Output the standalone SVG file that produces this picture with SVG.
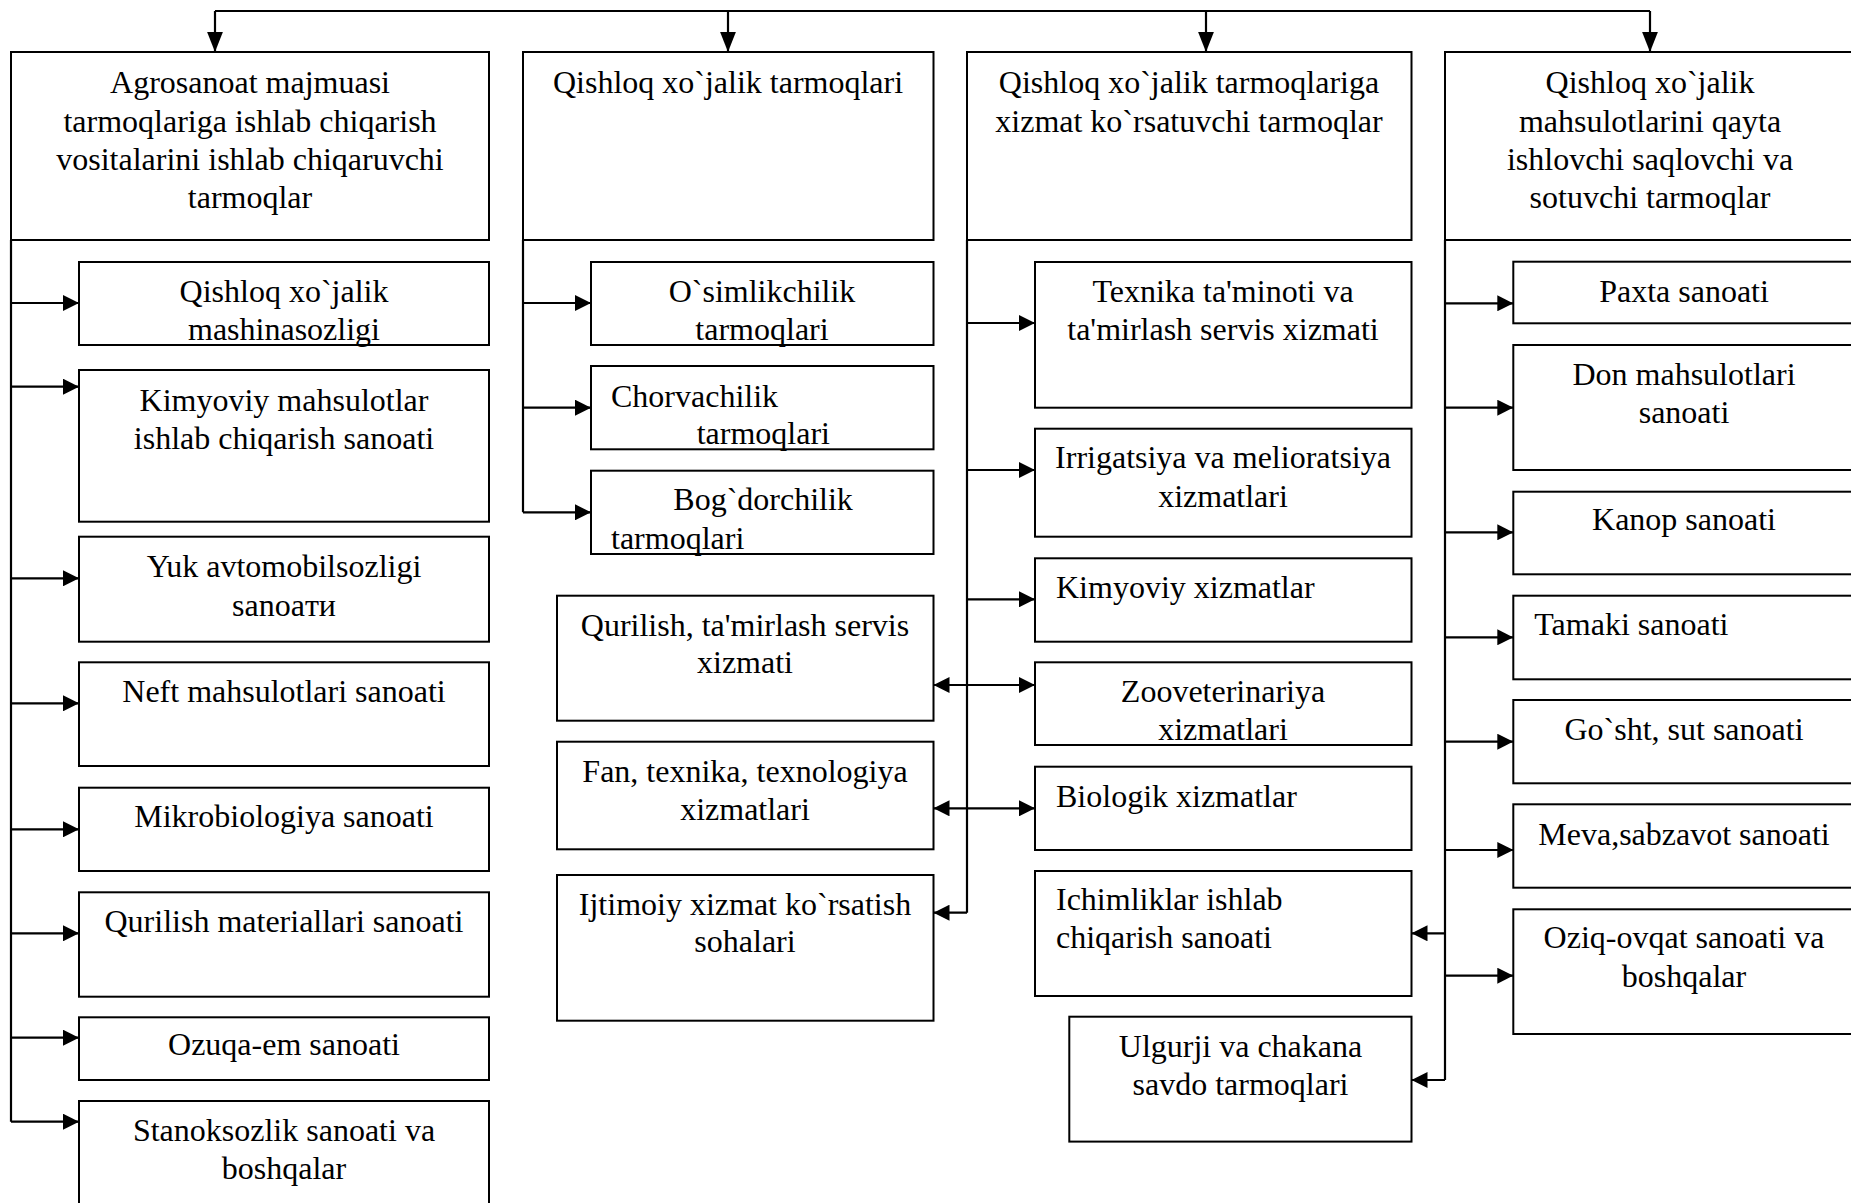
<svg xmlns="http://www.w3.org/2000/svg" width="1851" height="1203" viewBox="0 0 1851 1203">
<style>
rect{fill:#fff;stroke:#000;stroke-width:2}
.c{fill:none;stroke:#000;stroke-width:2.2}
text{font-family:"Liberation Serif","Times New Roman",serif;font-size:32px;fill:#000}
.m{text-anchor:middle}
</style>
<defs>
<marker id="ah" markerUnits="userSpaceOnUse" markerWidth="16" markerHeight="16" refX="15" refY="7.5" orient="auto-start-reverse" viewBox="0 0 15 15"><path d="M0,0 L15,7.5 L0,15 z" fill="#000"/></marker>
<marker id="av" markerUnits="userSpaceOnUse" markerWidth="20" markerHeight="16" refX="19" refY="7.5" orient="auto" viewBox="0 0 19 15"><path d="M0,0 L19,7.5 L0,15 z" fill="#000"/></marker>
</defs>
<rect x="-10" y="-10" width="1871" height="1223" style="stroke:none"/>
<g id="connectors">
<path class="c" d="M215,11 H1650"/>
<path class="c" d="M215,11 V52" marker-end="url(#av)"/>
<path class="c" d="M728,11 V52" marker-end="url(#av)"/>
<path class="c" d="M1206,11 V52" marker-end="url(#av)"/>
<path class="c" d="M1650,11 V52" marker-end="url(#av)"/>
<path class="c" d="M11,240 V1121.7"/>
<path class="c" d="M11,303 H79" marker-end="url(#ah)"/>
<path class="c" d="M11,386.7 H79" marker-end="url(#ah)"/>
<path class="c" d="M11,578.3 H79" marker-end="url(#ah)"/>
<path class="c" d="M11,703.3 H79" marker-end="url(#ah)"/>
<path class="c" d="M11,829.3 H79" marker-end="url(#ah)"/>
<path class="c" d="M11,933.3 H79" marker-end="url(#ah)"/>
<path class="c" d="M11,1037.7 H79" marker-end="url(#ah)"/>
<path class="c" d="M11,1121.7 H79" marker-end="url(#ah)"/>
<path class="c" d="M523,240 V512.3"/>
<path class="c" d="M523,303 H591" marker-end="url(#ah)"/>
<path class="c" d="M523,407.7 H591" marker-end="url(#ah)"/>
<path class="c" d="M523,512.3 H591" marker-end="url(#ah)"/>
<path class="c" d="M967,240 V912.7"/>
<path class="c" d="M967,323 H1035" marker-end="url(#ah)"/>
<path class="c" d="M967,470 H1035" marker-end="url(#ah)"/>
<path class="c" d="M967,599.3 H1035" marker-end="url(#ah)"/>
<path class="c" d="M933.5,685 H1035" marker-start="url(#ah)" marker-end="url(#ah)"/>
<path class="c" d="M933.5,808.3 H1035" marker-start="url(#ah)" marker-end="url(#ah)"/>
<path class="c" d="M967,912.7 H933.5" marker-end="url(#ah)"/>
<path class="c" d="M1445,240 V1080"/>
<path class="c" d="M1445,303.3 H1513.3" marker-end="url(#ah)"/>
<path class="c" d="M1445,407.7 H1513.3" marker-end="url(#ah)"/>
<path class="c" d="M1445,532.3 H1513.3" marker-end="url(#ah)"/>
<path class="c" d="M1445,637.3 H1513.3" marker-end="url(#ah)"/>
<path class="c" d="M1445,741.7 H1513.3" marker-end="url(#ah)"/>
<path class="c" d="M1445,850 H1513.3" marker-end="url(#ah)"/>
<path class="c" d="M1445,975.7 H1513.3" marker-end="url(#ah)"/>
<path class="c" d="M1445,933.3 H1411.5" marker-end="url(#ah)"/>
<path class="c" d="M1445,1080 H1411.5" marker-end="url(#ah)"/>
</g>
<g id="h1"><rect x="11" y="52" width="478" height="188"/><text class="m" x="250" y="93.3">Agrosanoat majmuasi</text><text class="m" x="250" y="131.7">tarmoqlariga ishlab chiqarish</text><text class="m" x="250" y="170">vositalarini ishlab chiqaruvchi</text><text class="m" x="250" y="208.3">tarmoqlar</text></g>
<g id="n1a"><rect x="79" y="262" width="410" height="83"/><text class="m" x="284" y="301.7">Qishloq xo`jalik</text><text class="m" x="284" y="340">mashinasozligi</text></g>
<g id="n1b"><rect x="79" y="370" width="410" height="151.7"/><text class="m" x="284" y="410.5">Kimyoviy mahsulotlar</text><text class="m" x="284" y="448.5">ishlab chiqarish sanoati</text></g>
<g id="n1c"><rect x="79" y="536.7" width="410" height="105"/><text class="m" x="284" y="577">Yuk avtomobilsozligi</text><text class="m" x="284" y="615.5">sanoaти</text></g>
<g id="n1d"><rect x="79" y="662.3" width="410" height="103.7"/><text class="m" x="284" y="702.3">Neft mahsulotlari sanoati</text></g>
<g id="n1e"><rect x="79" y="787.7" width="410" height="83.3"/><text class="m" x="284" y="827.3">Mikrobiologiya sanoati</text></g>
<g id="n1f"><rect x="79" y="892.3" width="410" height="104.4"/><text class="m" x="284" y="931.7">Qurilish materiallari sanoati</text></g>
<g id="n1g"><rect x="79" y="1017.3" width="410" height="62.7"/><text class="m" x="284" y="1055">Ozuqa-em sanoati</text></g>
<g id="n1h"><rect x="79" y="1101" width="410" height="120"/><text class="m" x="284" y="1141">Stanoksozlik sanoati va</text><text class="m" x="284" y="1179">boshqalar</text></g>
<g id="h2"><rect x="523" y="52" width="410.5" height="188"/><text class="m" x="728" y="93.3">Qishloq xo`jalik tarmoqlari</text></g>
<g id="n2a"><rect x="591" y="262" width="342.5" height="83"/><text class="m" x="762" y="301.7">O`simlikchilik</text><text class="m" x="762" y="340">tarmoqlari</text></g>
<g id="n2b"><rect x="591" y="366" width="342.5" height="83.3"/><text x="611" y="406.7">Chorvachilik</text><text x="696.7" y="444.3">tarmoqlari</text></g>
<g id="n2c"><rect x="591" y="470.7" width="342.5" height="83.3"/><text x="673.3" y="510">Bog`dorchilik</text><text x="611" y="549">tarmoqlari</text></g>
<g id="n2d"><rect x="557" y="595.7" width="376.5" height="125"/><text class="m" x="745" y="636">Qurilish, ta'mirlash servis</text><text class="m" x="745" y="673.3">xizmati</text></g>
<g id="n2e"><rect x="557" y="741.7" width="376.5" height="107.6"/><text class="m" x="745" y="781.7">Fan, texnika, texnologiya</text><text class="m" x="745" y="820">xizmatlari</text></g>
<g id="n2f"><rect x="557" y="875" width="376.5" height="145.7"/><text class="m" x="745" y="915">Ijtimoiy xizmat ko`rsatish</text><text class="m" x="745" y="951.7">sohalari</text></g>
<g id="h3"><rect x="967" y="52" width="444.5" height="188"/><text class="m" x="1189" y="93.3">Qishloq xo`jalik tarmoqlariga</text><text class="m" x="1189" y="131.7">xizmat ko`rsatuvchi tarmoqlar</text></g>
<g id="n3a"><rect x="1035" y="262" width="376.5" height="145.7"/><text class="m" x="1223" y="301.7">Texnika ta'minoti va</text><text class="m" x="1223" y="340">ta'mirlash servis xizmati</text></g>
<g id="n3b"><rect x="1035" y="428.7" width="376.5" height="108"/><text class="m" x="1223" y="468.3">Irrigatsiya va melioratsiya</text><text class="m" x="1223" y="506.7">xizmatlari</text></g>
<g id="n3c"><rect x="1035" y="558.3" width="376.5" height="83.4"/><text x="1056" y="598.3">Kimyoviy xizmatlar</text></g>
<g id="n3d"><rect x="1035" y="662.3" width="376.5" height="82.7"/><text class="m" x="1223" y="701.7">Zooveterinariya</text><text class="m" x="1223" y="740">xizmatlari</text></g>
<g id="n3e"><rect x="1035" y="766.7" width="376.5" height="83.3"/><text x="1056" y="806.7">Biologik xizmatlar</text></g>
<g id="n3f"><rect x="1035" y="871" width="376.5" height="125"/><text x="1056" y="910">Ichimliklar ishlab</text><text x="1056" y="948.3">chiqarish sanoati</text></g>
<g id="n3g"><rect x="1069.3" y="1016.7" width="342.2" height="124.9"/><text class="m" x="1240.5" y="1056.7">Ulgurji va chakana</text><text class="m" x="1240.5" y="1095">savdo tarmoqlari</text></g>
<g id="h4"><rect x="1445" y="52" width="420" height="188"/><text class="m" x="1650" y="93.3">Qishloq xo`jalik</text><text class="m" x="1650" y="131.7">mahsulotlarini qayta</text><text class="m" x="1650" y="170">ishlovchi saqlovchi va</text><text class="m" x="1650" y="208.3">sotuvchi tarmoqlar</text></g>
<g id="n4a"><rect x="1513.3" y="261.7" width="350" height="61.6"/><text class="m" x="1684" y="301.7">Paxta sanoati</text></g>
<g id="n4b"><rect x="1513.3" y="345" width="350" height="125"/><text class="m" x="1684" y="385">Don mahsulotlari</text><text class="m" x="1684" y="423.3">sanoati</text></g>
<g id="n4c"><rect x="1513.3" y="491.7" width="350" height="82.6"/><text class="m" x="1684" y="530">Kanop sanoati</text></g>
<g id="n4d"><rect x="1513.3" y="595.7" width="350" height="83.6"/><text x="1534.3" y="635">Tamaki sanoati</text></g>
<g id="n4e"><rect x="1513.3" y="700" width="350" height="83.3"/><text class="m" x="1684" y="740">Go`sht, sut sanoati</text></g>
<g id="n4f"><rect x="1513.3" y="804.3" width="350" height="83.4"/><text class="m" x="1684" y="845">Meva,sabzavot sanoati</text></g>
<g id="n4g"><rect x="1513.3" y="909.3" width="350" height="124.7"/><text class="m" x="1684" y="948.3">Oziq-ovqat sanoati va</text><text class="m" x="1684" y="986.7">boshqalar</text></g>
</svg>
